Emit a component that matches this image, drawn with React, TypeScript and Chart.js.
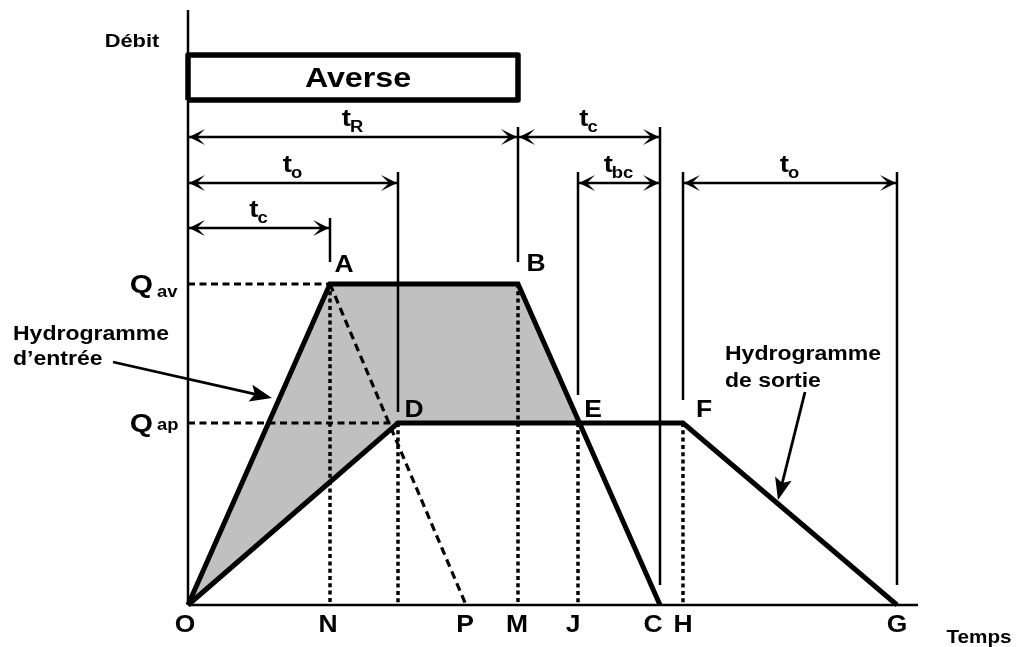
import React, { useEffect, useRef } from 'react';
import { Chart, registerables } from 'chart.js';

Chart.register(...registerables);

const W = 1021;
const H = 647;

// ---- data (time units / discharge units) ----
const axisLabels = ['O', 'N', 'P', 'M', 'J', 'C', 'H', 'G'];
const axisTimes = [0, 14.2, 27.8, 33.0, 39.0, 47.2, 49.5, 70.9];

const Q_AV = 32.1;
const Q_AP = 18.2;

// inflow hydrograph O-A-B-C
const inflowNames = ['O', 'A', 'B', 'C'];
const inflowT = [0, 14.2, 33.0, 47.2];
const inflowQ = [0, 32.1, 32.1, 0];

// outflow hydrograph O-D-F-G
const outflowNames = ['O', 'D', 'F', 'G'];
const outflowT = [0, 21.0, 49.5, 70.9];
const outflowQ = [0, 18.2, 18.2, 0];

// stored volume O-A-B-E-D
const storageT = [0, 14.2, 33.0, 39.0, 21.0];
const storageQ = [0, 32.1, 32.1, 18.2, 18.2];

// point E (inflow recession meets outflow plateau)
const pointE_T = 39.0;
const pointE_Q = 18.2;

// dotted drop lines to the time axis
const dropT = [14.2, 21.0, 33.0, 39.0, 49.5];
const dropQ = [32.1, 18.2, 32.1, 18.2, 18.2];

// rainfall block
const rainT = [0, 33.0];
const rainQ = [50.5, 55.0];

// dimension arrows
const dimSub = ['R', 'c', 'o', 'bc', 'o', 'c'];
const dimFrom = [0, 33.0, 0, 39.0, 49.5, 0];
const dimTo = [33.0, 47.2, 21.0, 47.2, 70.9, 14.2];
const dimLevel = [46.8, 46.8, 42.2, 42.2, 42.2, 37.7];

// extension lines of the dimensions
const extT = [14.2, 21.0, 33.0, 39.0, 47.2, 49.5, 70.9];
const extTop = [38.7, 43.3, 47.8, 43.3, 47.8, 43.3, 43.3];
const extBottom = [34.3, 19.3, 34.3, 21.0, 2.0, 20.5, 2.0];

const axisTopQ = 59.5;
const axisEndT = 73.0;

// ---- annotation placement (pixel offsets / positions for texts) ----
const FONT = '"Liberation Sans", Arial, Helvetica, sans-serif';
const STRETCH = 1.15;

function drawText(ctx: CanvasRenderingContext2D, text: string, x: number, y: number, size: number, align: CanvasTextAlign = 'center', stretch = STRETCH) {
  ctx.save();
  ctx.translate(x, y);
  ctx.scale(stretch, 1);
  ctx.font = `bold ${size}px ${FONT}`;
  ctx.textAlign = align;
  ctx.textBaseline = 'alphabetic';
  ctx.fillText(text, 0, 0);
  ctx.restore();
}

function textWidth(ctx: CanvasRenderingContext2D, text: string, size: number, stretch = STRETCH) {
  ctx.save();
  ctx.font = `bold ${size}px ${FONT}`;
  const w = ctx.measureText(text).width * stretch;
  ctx.restore();
  return w;
}

function arrowHead(ctx: CanvasRenderingContext2D, tx: number, ty: number, dx: number, dy: number, len: number, half: number, notch: number) {
  const n = Math.hypot(dx, dy);
  const ux = dx / n, uy = dy / n;
  const px = -uy, py = ux;
  const bx = tx - ux * len, by = ty - uy * len;
  ctx.beginPath();
  ctx.moveTo(tx, ty);
  ctx.lineTo(bx + px * half, by + py * half);
  ctx.lineTo(tx - ux * len * notch, ty - uy * len * notch);
  ctx.lineTo(bx - px * half, by - py * half);
  ctx.closePath();
  ctx.fill();
}

const pointLabelOffsets: Record<string, [number, number]> = {
  A: [14, -12], B: [18, -13], D: [16, -6], E: [15, -6], F: [21, -6],
};
const axisLabelShift = [-3, -2, -1, -1, -5, -7, 0, 0];

const annotationPlugin = {
  id: 'hydroAnnotations',
  afterDatasetsDraw(chart: any) {
    const ctx: CanvasRenderingContext2D = chart.ctx;
    const xs = chart.scales.x;
    const ys = chart.scales.y;
    const px = (t: number) => xs.getPixelForValue(t);
    const py = (q: number) => ys.getPixelForValue(q);
    ctx.save();
    ctx.fillStyle = '#000';
    ctx.strokeStyle = '#000';
    ctx.lineJoin = 'miter';

    // dimension arrows: heads + labels
    for (let i = 0; i < dimSub.length; i++) {
      const yy = py(dimLevel[i]);
      const x1 = px(dimFrom[i]);
      const x2 = px(dimTo[i]);
      arrowHead(ctx, x1 + 1, yy, -1, 0, 16, 8, 0.5);
      arrowHead(ctx, x2 - 1, yy, 1, 0, 16, 8, 0.5);
      const tw = textWidth(ctx, 't', 24);
      const sw = textWidth(ctx, dimSub[i], 16);
      const start = (x1 + x2) / 2 - (tw + sw) / 2;
      drawText(ctx, 't', start, yy - 11, 24, 'left');
      drawText(ctx, dimSub[i], start + tw - 1, yy - 5, 16, 'left');
    }

    // Averse
    drawText(ctx, 'Averse', (px(rainT[0]) + px(rainT[1])) / 2 + 5, py(rainQ[0]) - 13, 28);

    // axis titles
    drawText(ctx, 'Débit', px(0) - 56, py(axisTopQ) + 37, 19);
    drawText(ctx, 'Temps', px(axisEndT) + 61, py(0) + 38, 18);

    // Q labels
    drawText(ctx, 'Q', px(0) - 35, py(Q_AV) + 9, 26, 'right');
    drawText(ctx, 'av', px(0) - 31, py(Q_AV) + 13, 16, 'left');
    drawText(ctx, 'Q', px(0) - 35, py(Q_AP) + 9, 26, 'right');
    drawText(ctx, 'ap', px(0) - 31, py(Q_AP) + 7, 16, 'left');

    // point labels
    const pts: [string, number, number][] = [
      [inflowNames[1], inflowT[1], inflowQ[1]],
      [inflowNames[2], inflowT[2], inflowQ[2]],
      [outflowNames[1], outflowT[1], outflowQ[1]],
      ['E', pointE_T, pointE_Q],
      [outflowNames[2], outflowT[2], outflowQ[2]],
    ];
    for (const [name, t, q] of pts) {
      const o = pointLabelOffsets[name];
      drawText(ctx, name, px(t) + o[0], py(q) + o[1], 23);
    }

    // time-axis labels
    for (let i = 0; i < axisLabels.length; i++) {
      drawText(ctx, axisLabels[i], px(axisTimes[i]) + axisLabelShift[i], py(0) + 27, 23);
    }

    // pointer labels
    drawText(ctx, 'Hydrogramme', px(0) - 175, py(Q_AP) - 83, 20, 'left');
    drawText(ctx, 'd\u2019entrée', px(0) - 175, py(Q_AP) - 58, 20, 'left');
    drawText(ctx, 'Hydrogramme', px(outflowT[2]) + 42, py(outflowQ[2]) - 63, 20, 'left');
    drawText(ctx, 'de sortie', px(outflowT[2]) + 42, py(outflowQ[2]) - 36, 20, 'left');

    // pointer arrows
    const ptrs: [number, number, number, number][] = [
      [px(0) - 75, py(Q_AP) - 61, px(0) + 84, py(Q_AP) - 25],
      [px(outflowT[2]) + 122, py(outflowQ[2]) - 31, px(outflowT[2]) + 95, py(outflowQ[2]) + 77],
    ];
    ctx.lineWidth = 2.8;
    for (const [ax, ay, bx, by] of ptrs) {
      const dx = bx - ax, dy = by - ay;
      const n = Math.hypot(dx, dy);
      ctx.beginPath();
      ctx.moveTo(ax, ay);
      ctx.lineTo(bx - (dx / n) * 14, by - (dy / n) * 14);
      ctx.stroke();
      arrowHead(ctx, bx, by, dx, dy, 22, 8.5, 0.8);
    }
    ctx.restore();
  },
};

function seg(t1: number, q1: number, t2: number, q2: number) {
  return [{ x: t1, y: q1 }, { x: t2, y: q2 }];
}

export default function App() {
  const ref = useRef<HTMLCanvasElement>(null);

  useEffect(() => {
    const canvas = ref.current;
    if (!canvas) return;

    const black = '#000000';
    const base = { showLine: true, pointRadius: 0, borderColor: black, fill: false, tension: 0 };
    const datasets: any[] = [];

    // shaded storage
    const storage = storageT.map((t, i) => ({ x: t, y: storageQ[i] }));
    storage.push({ x: storageT[0], y: storageQ[0] });
    datasets.push({ ...base, data: storage, borderWidth: 0, backgroundColor: '#c0c0c0', fill: 'shape', order: 20 });

    // main hydrographs
    datasets.push({ ...base, data: inflowT.map((t, i) => ({ x: t, y: inflowQ[i] })), borderWidth: 5, borderJoinStyle: 'miter', order: 0 });
    datasets.push({ ...base, data: outflowT.map((t, i) => ({ x: t, y: outflowQ[i] })), borderWidth: 5, borderJoinStyle: 'miter', order: 0 });

    // axes
    datasets.push({ ...base, data: seg(0, 0, 0, axisTopQ), borderWidth: 2.5, order: 5 });
    datasets.push({ ...base, data: seg(0, 0, axisEndT, 0), borderWidth: 2.5, order: 5 });

    // dashed Q levels
    datasets.push({ ...base, data: seg(0, Q_AV, inflowT[1], Q_AV), borderWidth: 3, borderDash: [7, 4.5], order: 6 });
    datasets.push({ ...base, data: seg(0, Q_AP, outflowT[1], Q_AP), borderWidth: 3, borderDash: [7, 4.5], order: 6 });

    // dashed A -> P
    datasets.push({ ...base, data: seg(inflowT[1], inflowQ[1], axisTimes[2], 0), borderWidth: 3.2, borderDash: [8, 5], order: 6 });

    // dotted drops
    dropT.forEach((t, i) => {
      datasets.push({ ...base, data: seg(t, dropQ[i], t, 0), borderWidth: 3.5, borderDash: [4, 3.3], order: 7 });
    });

    // extension lines
    extT.forEach((t, i) => {
      datasets.push({ ...base, data: seg(t, extTop[i], t, extBottom[i]), borderWidth: 2.5, order: 8 });
    });

    // dimension lines
    dimFrom.forEach((t, i) => {
      datasets.push({ ...base, data: seg(t, dimLevel[i], dimTo[i], dimLevel[i]), borderWidth: 2.5, order: 8 });
    });

    // rainfall box
    datasets.push({
      ...base,
      data: [
        { x: rainT[0], y: rainQ[0] }, { x: rainT[0], y: rainQ[1] },
        { x: rainT[1], y: rainQ[1] }, { x: rainT[1], y: rainQ[0] },
        { x: rainT[0], y: rainQ[0] },
      ],
      borderWidth: 5.5,
      borderJoinStyle: 'round',
      order: 4,
    });

    const chart = new Chart(canvas, {
      type: 'scatter',
      data: { datasets },
      options: {
        responsive: false,
        animation: false,
        devicePixelRatio: 1,
        layout: { padding: 0 },
        plugins: { legend: { display: false }, tooltip: { enabled: false } },
        scales: {
          x: { type: 'linear', display: false, min: -18.8, max: 83.3 },
          y: { type: 'linear', display: false, min: -4.2, max: 60.5 },
        },
      },
      plugins: [annotationPlugin],
    } as any);

    return () => chart.destroy();
  }, []);

  return (
    <div style={{ position: 'fixed', left: 0, top: 0, width: W, height: H, background: '#ffffff' }}>
      <canvas ref={ref} width={W} height={H} style={{ display: 'block', width: W, height: H }} />
    </div>
  );
}
